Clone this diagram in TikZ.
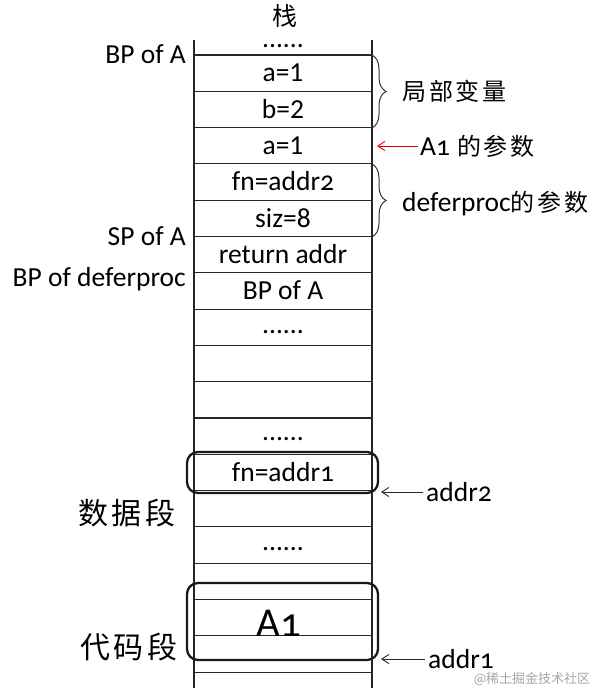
\documentclass[tikz,border=0pt]{standalone}
\usepackage{fontspec}
\setmainfont{Carlito}
\newfontfamily\osf{Carlito}[Numbers=OldStyle]
\newfontfamily\cjk{Noto Sans CJK SC}
\newfontfamily\cjksp[LetterSpace=12]{Noto Sans CJK SC}
\usetikzlibrary{arrows.meta,decorations.pathreplacing}
\begin{document}
\begin{tikzpicture}[x=1pt,y=-1pt,
  lat/.style={font=\fontsize{27.5}{31}\selectfont, inner sep=0pt},
  olat/.style={font=\osf\fontsize{27.5}{31}\selectfont, inner sep=0pt},
  cell/.style={lat, anchor=base},
  colline/.style={line width=1.1pt, black!85},
  hl/.style={line width=2.3pt, rounded corners=11pt, black!90},
  brc/.style={decorate, decoration={brace, amplitude=14pt}, line width=1pt, black!80},
  cjkr/.style={font=\cjksp\fontsize{24}{28}\selectfont, inner sep=0pt},
  cjkl/.style={font=\cjksp\fontsize{30}{33}\selectfont, inner sep=0pt},
  arr/.style={-{Straight Barb[length=7pt,width=9pt]}, line width=0.9pt, black!85},
  redarr/.style={-{Straight Barb[length=7pt,width=9pt]}, line width=0.9pt, red!90!black}]
\useasboundingbox (0,0) rectangle (596,699);
\fill[white] (0,0) rectangle (596,699);

% stack column
\draw[colline] (194,40) -- (194,688);
\draw[colline] (372,40) -- (372,688);
\foreach \k in {0,...,17} \draw[colline] (194,{55+\k*36.3}) -- (372,{55+\k*36.3});

% title
\node[font=\cjk\fontsize{25}{28}\selectfont, inner sep=0pt] (stack) at (285,16) {栈};

% cell texts
\node[cell] (t0) at (283,47) {......};
\node[cell] (r0) at (283,81) {a=1};
\node[cell] (r1) at (283,118) {b=2};
\node[cell] (r2) at (283,154) {a=1};
\node[cell, font=\osf\fontsize{27.5}{31}\selectfont] (r3) at (283,190) {fn=addr2};
\node[cell] (r4) at (283,227) {siz=8};
\node[cell] (r5) at (283,263) {return addr};
\node[cell] (r6) at (283,299) {BP of A};
\node[cell] (r7) at (283,333) {......};
\node[cell] (r10) at (283,440) {......};
\node[cell, font=\osf\fontsize{27.5}{31}\selectfont] (r11) at (283,481) {fn=addr1};
\node[cell] (r13) at (283,550) {......};
\node[cell, font=\osf\fontsize{41}{45}\selectfont] (a1) at (279,636) {A1};

% highlight boxes
\draw[hl] (187,452) rectangle (378,493);
\draw[hl] (187,583) rectangle (378,660);

% left labels
\node[lat, anchor=base east] (bpa) at (186,63) {BP of A};
\node[lat, anchor=base east] (spa) at (186,245) {SP of A};
\node[lat, anchor=base east] (bpd) at (186,286) {BP of deferproc};
\node[cjkl, anchor=west] (data) at (78,513) {数据段};
\node[cjkl, anchor=west] (code) at (80,647) {代码段};

% braces and right labels
\draw[brc] (372,55) -- (372,128);
\draw[brc] (372,164) -- (372,237);
\node[cjkr, anchor=west] (loc) at (402,91) {局部变量};
\node[cjkr, anchor=west] (a1lbl) at (420,146) {{\osf\fontsize{27.5}{31}\selectfont A1}\hspace{7pt}的参数};
\coordinate (a1tip) at (377,146);
\draw[redarr, shorten <=2pt] (a1lbl.west) -- (a1tip);
\node[cjkr, anchor=west] (dpl) at (402,204) {{\fontsize{27.5}{31}\selectfont\rmfamily deferproc}的参数};

% address arrows
\node[olat, anchor=west] (ad2) at (426,492) {addr2};
\coordinate (ad2tip) at (381,492);
\draw[arr, shorten <=3pt] (ad2.west) -- (ad2tip);
\node[olat, anchor=west] (ad1) at (428,659) {addr1};
\coordinate (ad1tip) at (381,659);
\draw[arr, shorten <=3pt] (ad1.west) -- (ad1tip);

% watermark
\node[font=\cjk\fontsize{13}{15}\selectfont, text=black!35, inner sep=0pt] (wm) at (532,679) {@稀土掘金技术社区};
\end{tikzpicture}
\end{document}
